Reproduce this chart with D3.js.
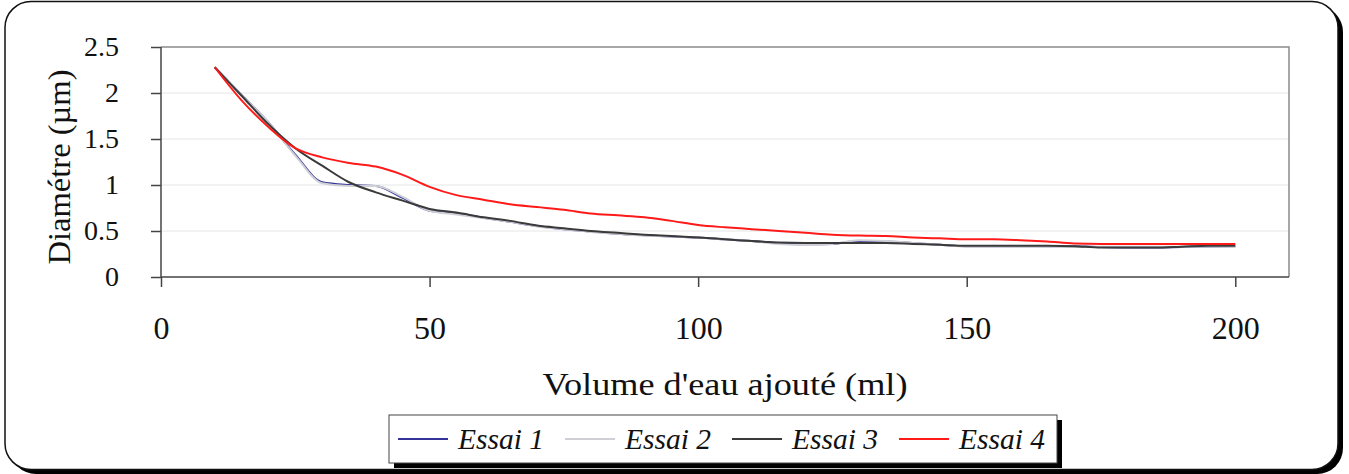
<!DOCTYPE html>
<html>
<head>
<meta charset="utf-8">
<script src="https://cdn.jsdelivr.net/npm/d3@7"></script>
<style>
  html, body { margin: 0; padding: 0; background: #ffffff; }
  svg { display: block; }
  svg text { font-family: "Liberation Serif", "Times New Roman", serif; fill: #111; }
</style>
</head>
<body>
<svg id="chart" width="1349" height="474"></svg>
<script>
// ---- data ----
const volumes = [10,15,20,25,30,35,40,45,50,55,60,65,70,75,80,85,90,95,100,105,110,115,120,125,130,135,140,145,150,155,160,165,170,175,180,185,190,195,200];
const essai1 = [2.28,1.98,1.68,1.33,1.03,1.00,0.99,0.86,0.72,0.69,0.645,0.60,0.555,0.52,0.495,0.47,0.455,0.44,0.43,0.41,0.39,0.37,0.355,0.36,0.39,0.385,0.37,0.35,0.335,0.335,0.335,0.335,0.335,0.325,0.32,0.32,0.325,0.33,0.335];
const essai2 = [2.28,1.98,1.68,1.32,1.02,0.99,0.99,0.87,0.72,0.68,0.64,0.60,0.55,0.52,0.49,0.47,0.45,0.44,0.43,0.41,0.39,0.36,0.35,0.36,0.40,0.39,0.37,0.35,0.33,0.33,0.33,0.33,0.33,0.33,0.33,0.33,0.33,0.33,0.33];
const essai3 = [2.28,1.97,1.66,1.40,1.21,1.03,0.92,0.83,0.74,0.70,0.65,0.61,0.56,0.53,0.50,0.48,0.46,0.445,0.43,0.41,0.39,0.375,0.37,0.37,0.37,0.37,0.36,0.35,0.34,0.34,0.34,0.34,0.335,0.32,0.32,0.32,0.33,0.34,0.34];
const essai4 = [2.28,1.92,1.63,1.40,1.30,1.24,1.20,1.11,0.98,0.89,0.84,0.79,0.76,0.73,0.69,0.67,0.65,0.61,0.565,0.54,0.52,0.50,0.48,0.46,0.45,0.445,0.43,0.42,0.41,0.41,0.40,0.385,0.365,0.36,0.36,0.36,0.36,0.36,0.36];
const seriesNames = ["Essai 1","Essai 2","Essai 3","Essai 4"];
const seriesColors = ["#333399","#cfcfd6","#3a3a3a","#ff1a1a"];
const xTicks = [0,50,100,150,200];
const yTicks = [0,0.5,1,1.5,2,2.5];
const xTitle = "Volume d'eau ajouté (ml)";
const yTitle = "Diamétre (µm)";

const seriesValues = [essai1, essai2, essai3, essai4];

// ---- layout ----
const svg = d3.select("#chart");
const plot = {left: 161, right: 1289, top: 47, bottom: 277};

// outer frame with shadow
svg.append("rect").attr("x", 10).attr("y", 6).attr("width", 1333).attr("height", 468)
  .attr("rx", 26).attr("fill", "#000");
svg.append("rect").attr("x", 5).attr("y", 1.5).attr("width", 1333).attr("height", 468)
  .attr("rx", 26).attr("fill", "#fff").attr("stroke", "#111").attr("stroke-width", 1.5);

const x = d3.scaleLinear().domain([0, 210]).range([plot.left, plot.right]);
const y = d3.scaleLinear().domain([0, 2.5]).range([plot.bottom, plot.top]);

// gridlines
svg.append("g").selectAll("line").data(yTicks.filter(t => t > 0 && t < 2.5)).join("line")
  .attr("x1", plot.left).attr("x2", plot.right)
  .attr("y1", d => y(d)).attr("y2", d => y(d))
  .attr("stroke", "#e6e6e6").attr("stroke-width", 1);

// plot frame top & right
svg.append("path")
  .attr("d", `M${plot.left},${plot.top}H${plot.right}V${plot.bottom}`)
  .attr("fill", "none").attr("stroke", "#8a8a8a").attr("stroke-width", 1.5);

// axes
const yAxis = d3.axisLeft(y).tickValues(yTicks).tickSize(10).tickPadding(32).tickFormat(d3.format("~g"));
const gy = svg.append("g").attr("transform", `translate(${plot.left},0)`).call(yAxis);
const xAxis = d3.axisBottom(x).tickValues(xTicks).tickSize(10).tickPadding(29).tickFormat(d3.format("d"));
const gx = svg.append("g").attr("transform", `translate(0,${plot.bottom})`).call(xAxis);
[gx, gy].forEach(g => {
  g.attr("font-family", null).attr("font-size", null);
  g.select(".domain").attr("stroke", "#444").attr("stroke-width", 1.5);
  g.selectAll(".tick line").attr("stroke", "#444").attr("stroke-width", 1.5);
  g.selectAll(".tick text").attr("fill", "#111");
});
gy.selectAll(".tick text").style("font-size", "28px");
gx.selectAll(".tick text").style("font-size", "32px");
gx.select(".domain").attr("d", `M${plot.left},0H${plot.right}`);
gy.select(".domain").attr("d", `M0,${plot.top}V${plot.bottom}`);

// lines
const line = d3.line().x((d, i) => x(volumes[i])).y(d => y(d)).curve(d3.curveMonotoneX);
svg.append("g").selectAll("path").data(seriesValues).join("path")
  .attr("d", d => line(d))
  .attr("fill", "none")
  .attr("stroke", (d, i) => seriesColors[i])
  .attr("stroke-width", 2)
  .attr("stroke-linejoin", "round");

// axis titles
svg.append("text").attr("x", 725).attr("y", 395).attr("text-anchor", "middle")
  .style("font-size", "31px").attr("textLength", 365).attr("lengthAdjust", "spacingAndGlyphs").text(xTitle);
svg.append("text").attr("transform", "translate(70,167) rotate(-90)").attr("text-anchor", "middle")
  .style("font-size", "31px").attr("textLength", 195).attr("lengthAdjust", "spacingAndGlyphs").text(yTitle);

// legend
const leg = {x: 389, y: 415, w: 668, h: 48};
svg.append("rect").attr("x", leg.x + 5).attr("y", leg.y + 5).attr("width", leg.w).attr("height", leg.h).attr("fill", "#000");
svg.append("rect").attr("x", leg.x).attr("y", leg.y).attr("width", leg.w).attr("height", leg.h)
  .attr("fill", "#fff").attr("stroke", "#444").attr("stroke-width", 1);
const items = svg.append("g").selectAll("g").data(seriesNames).join("g")
  .attr("transform", (d, i) => `translate(${398 + i * 167},${leg.y + leg.h / 2})`);
items.append("line").attr("x1", 0).attr("x2", 50).attr("y1", 0).attr("y2", 0)
  .attr("stroke", (d, i) => seriesColors[i]).attr("stroke-width", 2);
items.append("text").attr("x", 60).attr("y", 10).style("font-size", "29px").style("font-style", "italic")
  .attr("textLength", 86).attr("lengthAdjust", "spacingAndGlyphs").text(d => d);
</script>
</body>
</html>
